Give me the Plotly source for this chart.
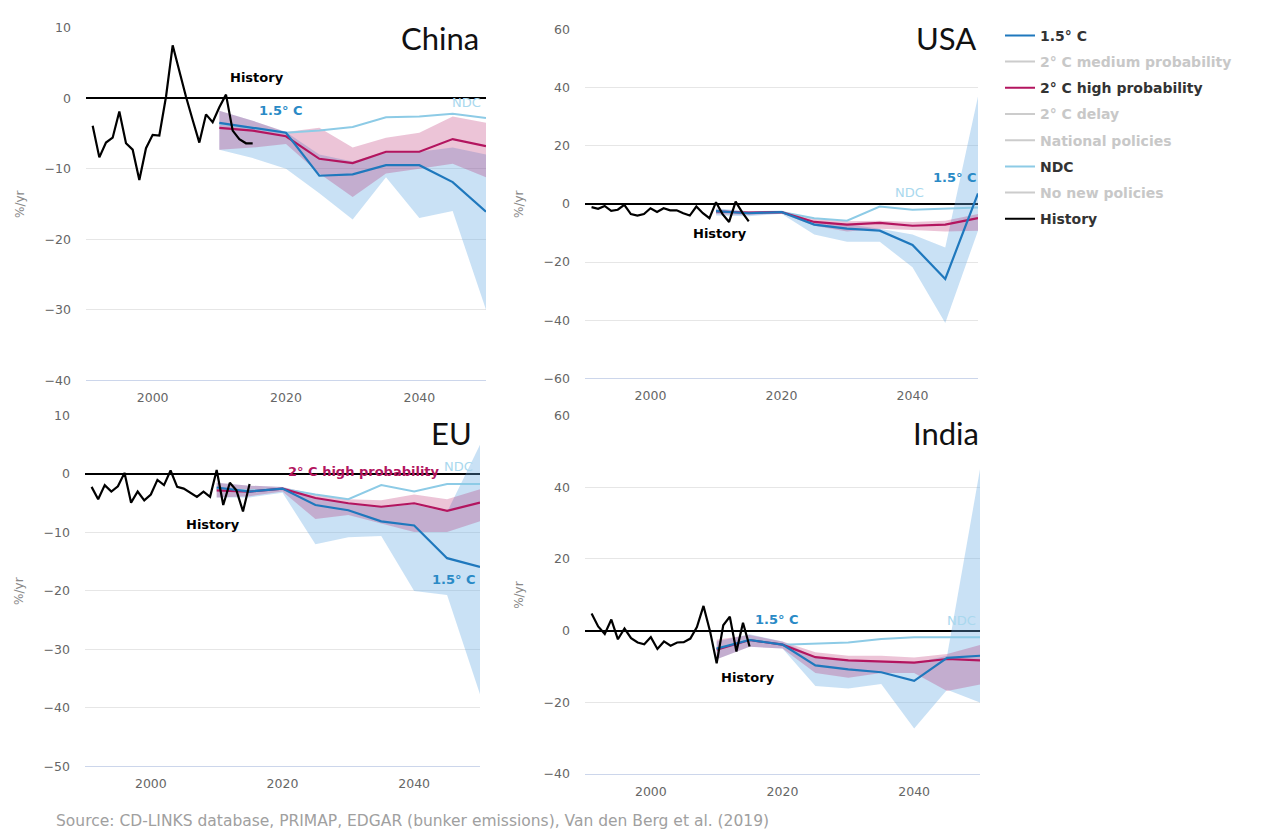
import plotly.graph_objects as go

# ---------------- data ----------------
hist_years = list(range(1991, 2016))
scen_years = [2010, 2015, 2020, 2025, 2030, 2035, 2040, 2045, 2050]

china_hist = [-3.9, -8.4, -6.3, -5.6, -1.9, -6.4, -7.3, -11.6, -7.1, -5.2, -5.3, 0.2, 7.5,
              3.7, 0.2, -3.1, -6.3, -2.3, -3.4, -1.3, 0.5, -4.6, -5.8, -6.4, -6.4]
china_15 = [-3.5, -4.2, -4.9, -11.0, -10.8, -9.5, -9.5, -11.9, -16.1]
china_2hp = [-4.2, -4.6, -5.4, -8.6, -9.2, -7.6, -7.6, -5.8, -6.8]
china_ndc = [-3.6, -4.3, -4.9, -4.6, -4.1, -2.7, -2.6, -2.2, -2.8]
china_15_hi = [-1.8, -3.2, -4.8, -8.0, -9.0, -7.6, -7.6, -7.0, -8.0]
china_15_lo = [-7.3, -8.5, -10.0, -13.5, -17.2, -11.2, -17.0, -16.0, -30.0]
china_2hp_hi = [-1.8, -3.2, -4.8, -4.2, -7.0, -5.6, -4.9, -2.6, -3.5]
china_2hp_lo = [-7.3, -7.0, -6.5, -10.7, -14.0, -10.7, -10.0, -9.3, -11.2]

usa_hist = [-1.1, -1.7, -0.7, -2.4, -2.0, -0.3, -3.5, -4.0, -3.5, -1.5, -2.8, -1.5, -2.2,
            -2.2, -3.2, -4.0, -0.9, -3.2, -4.9, 0.6, -3.5, -6.2, 0.8, -2.9, -6.0]
usa_15 = [-2.5, -3.2, -2.8, -7.1, -8.5, -9.2, -14.1, -25.8, 3.6]
usa_2hp = [-2.6, -3.0, -2.8, -6.2, -7.1, -6.5, -7.5, -7.1, -4.9]
usa_ndc = [-2.6, -3.0, -2.8, -4.9, -5.8, -0.9, -2.0, -1.5, -1.2]
usa_15_hi = [-1.5, -2.5, -2.3, -6.0, -7.0, -8.5, -10.5, -15.0, 37.0]
usa_15_lo = [-4.0, -4.2, -3.4, -10.5, -13.0, -13.0, -21.8, -41.0, -9.2]
usa_2hp_hi = [-1.8, -2.6, -2.4, -5.2, -6.0, -5.8, -6.2, -5.8, -3.5]
usa_2hp_lo = [-3.5, -3.8, -3.2, -7.5, -9.5, -8.5, -9.0, -9.5, -9.2]

eu_hist = [-2.2, -4.3, -1.9, -3.0, -2.1, 0.2, -4.9, -3.0, -4.5, -3.5, -1.0, -1.9, 0.6,
           -2.2, -2.5, -3.2, -3.9, -3.0, -3.9, 0.7, -5.3, -1.5, -2.8, -6.4, -1.7]
eu_15 = [-2.3, -3.0, -2.5, -5.3, -6.2, -8.1, -8.8, -14.4, -15.9]
eu_2hp = [-2.8, -3.0, -2.5, -4.1, -5.0, -5.6, -5.0, -6.3, -4.9]
eu_ndc = [-2.5, -2.8, -2.5, -3.5, -4.3, -1.9, -3.0, -1.7, -1.7]
eu_15_hi = [-1.5, -2.0, -2.2, -4.0, -5.0, -5.6, -5.2, -6.5, 5.0]
eu_15_lo = [-4.0, -4.0, -3.2, -12.0, -10.8, -10.6, -20.0, -20.7, -37.7]
eu_2hp_hi = [-1.5, -2.0, -2.2, -3.5, -4.3, -4.5, -3.5, -4.3, -2.6]
eu_2hp_lo = [-4.0, -3.8, -3.0, -7.7, -7.0, -8.5, -9.9, -9.9, -8.1]

india_hist = [4.8, 1.2, -0.9, 3.1, -2.4, 0.6, -2.1, -3.3, -3.8, -1.8, -5.1, -3.0, -4.2,
              -3.3, -3.2, -2.2, 1.0, 6.9, -0.2, -9.1, 1.5, 3.9, -5.8, 2.2, -4.4]
india_15 = [-5.0, -2.6, -3.9, -9.7, -10.8, -11.6, -14.0, -7.6, -7.0]
india_2hp = [-5.3, -2.6, -3.9, -7.4, -8.3, -8.7, -8.9, -7.9, -8.3]
india_ndc = [-5.0, -2.4, -3.9, -3.7, -3.3, -2.3, -1.8, -1.8, -1.8]
india_15_hi = [-3.0, -1.0, -3.0, -7.4, -8.3, -8.7, -9.0, -7.0, 45.0]
india_15_lo = [-8.0, -4.5, -5.0, -15.4, -16.1, -14.9, -27.3, -16.5, -20.0]
india_2hp_hi = [-2.5, -1.2, -3.0, -6.0, -7.0, -7.0, -7.5, -6.5, -4.0]
india_2hp_lo = [-8.0, -4.5, -5.0, -11.8, -13.1, -11.8, -11.8, -16.8, -15.0]

legend_names = ["1.5° C", "2° C medium probability", "2° C high probability", "2° C delay",
                "National policies", "NDC", "No new policies", "History"]
source_text = "Source: CD-LINKS database, PRIMAP, EDGAR (bunker emissions), Van den Berg et al. (2019)"

# ---------------- styling ----------------
C15 = "#1f78bd"
C2HP = "#b3155f"
CNDC = "#8dcbe6"
CHIST = "#000000"
GREY = "#cccccc"
BAND15 = "rgba(100,170,225,0.35)"
BAND2HP = "rgba(179,21,95,0.25)"
FONT = "DejaVu Sans"

W, H = 1266, 840

# panel pixel boxes: left, right, top, bottom; title = (right edge px, centre y px)
panels = [
    dict(name="China", box=(86, 486, 20, 379), yr=(-40, 10), dt=10, title=(481, 31),
         hist=china_hist, l15=china_15, l2=china_2hp, ndc=china_ndc,
         b15=(china_15_hi, china_15_lo), b2=(china_2hp_hi, china_2hp_lo)),
    dict(name="USA", box=(585, 978, 22, 377), yr=(-60, 60), dt=20, title=(978, 31),
         hist=usa_hist, l15=usa_15, l2=usa_2hp, ndc=usa_ndc,
         b15=(usa_15_hi, usa_15_lo), b2=(usa_2hp_hi, usa_2hp_lo)),
    dict(name="EU", box=(85, 480, 415, 772), yr=(-50, 10), dt=10, title=(474, 433),
         hist=eu_hist, l15=eu_15, l2=eu_2hp, ndc=eu_ndc,
         b15=(eu_15_hi, eu_15_lo), b2=(eu_2hp_hi, eu_2hp_lo)),
    dict(name="India", box=(585, 980, 415, 780), yr=(-40, 60), dt=20, title=(981, 433),
         hist=india_hist, l15=india_15, l2=india_2hp, ndc=india_ndc,
         b15=(india_15_hi, india_15_lo), b2=(india_2hp_hi, india_2hp_lo)),
]

fig = go.Figure()
layout = {}
annotations = []

for i, p in enumerate(panels):
    k = "" if i == 0 else str(i + 1)
    xa, ya = "x" + k, "y" + k
    l, r, t, b = p["box"]
    layout["xaxis" + k] = dict(
        domain=[l / W, r / W], range=[1990, 2050], anchor=ya,
        tickvals=[2000, 2020, 2040], showgrid=False, zeroline=False,
        showline=True, linecolor="#ccd6eb", linewidth=1, ticks="",
        tickfont=dict(family=FONT, size=12.5, color="#666666"), ticklabelstandoff=6,
    )
    layout["yaxis" + k] = dict(
        domain=[1 - b / H, 1 - t / H], range=list(p["yr"]), anchor=xa,
        dtick=p["dt"], tick0=0, showgrid=True, gridcolor="#e6e6e6", gridwidth=1,
        zeroline=True, zerolinecolor="#000000", zerolinewidth=1.5,
        showline=False, ticks="",
        tickfont=dict(family=FONT, size=12.5, color="#666666"), ticklabelstandoff=14,
    )

    # ranges: 1.5 C band below, 2 C high probability band on top
    for (hi, lo), col in ((p["b15"], BAND15), (p["b2"], BAND2HP)):
        fig.add_trace(go.Scatter(x=scen_years, y=lo, xaxis=xa, yaxis=ya, mode="lines",
                                 line=dict(width=0), showlegend=False, hoverinfo="skip"))
        fig.add_trace(go.Scatter(x=scen_years, y=hi, xaxis=xa, yaxis=ya, mode="lines",
                                 line=dict(width=0), fill="tonexty", fillcolor=col,
                                 showlegend=False, hoverinfo="skip"))

    fig.add_trace(go.Scatter(x=scen_years, y=p["ndc"], xaxis=xa, yaxis=ya, mode="lines",
                             line=dict(color=CNDC, width=2), name="NDC", showlegend=False))
    fig.add_trace(go.Scatter(x=scen_years, y=p["l2"], xaxis=xa, yaxis=ya, mode="lines",
                             line=dict(color=C2HP, width=2.2), name="2° C high probability",
                             showlegend=False))
    fig.add_trace(go.Scatter(x=scen_years, y=p["l15"], xaxis=xa, yaxis=ya, mode="lines",
                             line=dict(color=C15, width=2.2), name="1.5° C", showlegend=False))
    fig.add_trace(go.Scatter(x=hist_years, y=p["hist"], xaxis=xa, yaxis=ya, mode="lines",
                             line=dict(color=CHIST, width=2.2), name="History",
                             showlegend=False))

    # country label
    tx, ty = p["title"]
    annotations.append(dict(
        text=p["name"], xref="paper", yref="paper", x=tx / W, y=1 - ty / H,
        xanchor="right", yanchor="middle", showarrow=False,
        font=dict(family="Lato", size=31, color="#111111")))
    # axis title
    annotations.append(dict(
        text="%/yr", xref="paper", yref="paper", x=(l - 66) / W, y=1 - ((t + b) / 2) / H,
        textangle=-90, showarrow=False, xanchor="center", yanchor="middle",
        font=dict(family=FONT, size=12, color="#888888")))

# inline series labels (data coordinates)
inline = [
    ("x", "y", 2015.7, 2.9, "History", CHIST, True),
    ("x", "y", 2019.2, -1.8, "1.5° C", "#2a8ac6", True),
    ("x", "y", 2047.0, -0.6, "NDC", "#a9d8ee", False),
    ("x2", "y2", 2046.5, 9.2, "1.5° C", "#2a8ac6", True),
    ("x2", "y2", 2039.5, 4.1, "NDC", "#a9d8ee", False),
    ("x2", "y2", 2010.6, -10.2, "History", CHIST, True),
    ("x3", "y3", 2032.4, 0.5, "2° C high probability", C2HP, True),
    ("x3", "y3", 2046.8, 1.3, "NDC", "#a9d8ee", False),
    ("x3", "y3", 2046.0, -18.0, "1.5° C", "#2a8ac6", True),
    ("x3", "y3", 2009.4, -8.7, "History", CHIST, True),
    ("x4", "y4", 2019.1, 3.0, "1.5° C", "#2a8ac6", True),
    ("x4", "y4", 2047.2, 2.8, "NDC", "#a9d8ee", False),
    ("x4", "y4", 2014.8, -13.2, "History", CHIST, True),
]
for xr, yr, x, y, txt, col, bold in inline:
    annotations.append(dict(
        text=txt, xref=xr, yref=yr, x=x, y=y, showarrow=False,
        xanchor="center", yanchor="middle",
        font=dict(family=FONT, size=13, color=col, weight="bold" if bold else "normal")))

annotations.append(dict(
    text=source_text, xref="paper", yref="paper", x=54 / W, y=1 - 828 / H,
    xanchor="left", yanchor="middle", showarrow=False,
    font=dict(family=FONT, size=15.5, color="#a0a0a0")))

# legend entries (inactive scenarios shown greyed out)
legend_colors = [C15, GREY, C2HP, GREY, GREY, CNDC, GREY, CHIST]
for name, col in zip(legend_names, legend_colors):
    label = name if col != GREY else "<span style='color:#c8c8c8'>" + name + "</span>"
    fig.add_trace(go.Scatter(x=[None], y=[None], mode="lines", line=dict(color=col, width=2),
                             name=label, legendgroup=name, showlegend=True,
                             xaxis="x", yaxis="y"))

fig.update_layout(
    **layout,
    width=W, height=H,
    margin=dict(l=0, r=0, t=0, b=0),
    paper_bgcolor="white", plot_bgcolor="white",
    annotations=annotations,
    showlegend=True,
    legend=dict(x=1000 / W, y=1 - 12 / H, xanchor="left", yanchor="top",
                traceorder="grouped", tracegroupgap=5, itemwidth=30,
                font=dict(family=FONT, size=14, color="#333333", weight="bold"),
                bgcolor="rgba(0,0,0,0)"),
)

fig.write_html("out.html")
